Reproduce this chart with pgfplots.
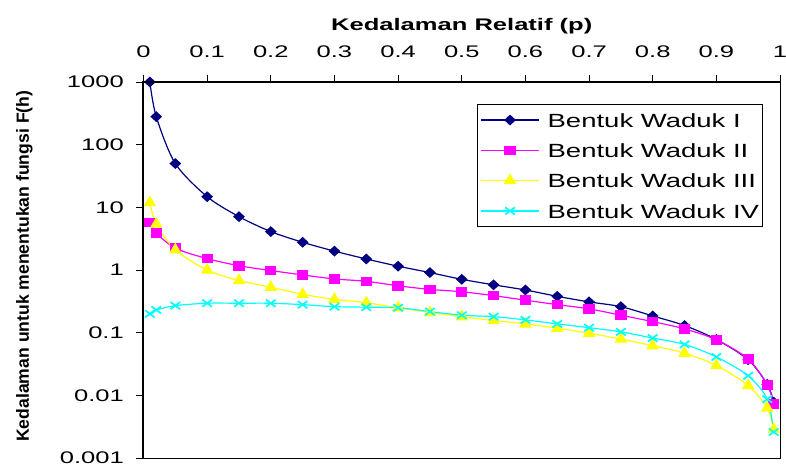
\documentclass[border=0pt]{standalone}
\usepackage{fontspec}
\setmainfont{Liberation Sans}
\usepackage{graphicx}
\usepackage{pgfplots}
\pgfplotsset{compat=1.18}
\newcommand{\sx}[1]{\scalebox{1.52}[1]{#1}}
\newcommand{\lx}[1]{\scalebox{1.44}[1]{#1}}
\definecolor{cI}{RGB}{0,0,128}
\definecolor{cII}{RGB}{255,0,255}
\definecolor{cIII}{RGB}{255,255,0}
\definecolor{cIV}{RGB}{0,255,255}
\begin{document}
\begin{tikzpicture}
\path[use as bounding box] (-143.5pt,-13pt) rectangle (642.5pt,458pt);
\begin{axis}[
  scale only axis,
  width=636.5pt, height=376pt,
  xmin=0, xmax=1,
  ymode=log, ymin=0.001, ymax=1000,
  clip=false,
  axis line style={black, line width=0.8pt},
  xtick={0,0.1,0.2,0.3,0.4,0.5,0.6,0.7,0.8,0.9,1},
  xticklabels={\sx{0},\sx{0.1},\sx{0.2},\sx{0.3},\sx{0.4},\sx{0.5},\sx{0.6},\sx{0.7},\sx{0.8},\sx{0.9},\sx{1}},
  ytick={0.001,0.01,0.1,1,10,100,1000},
  yticklabels={\sx{0.001},\sx{0.01},\sx{0.1},\sx{1},\sx{10},\sx{100},\sx{1000}},
  yminorticks=false, xminorticks=false,
  xtick pos=right, xticklabel pos=right,
  ytick pos=left,
  tick align=outside,
  major tick length=7.5pt,
  tick style={black, line width=0.8pt},
  tick label style={font=\fontsize{16.8}{18}\selectfont},
  xticklabel style={anchor=base, inner sep=0pt, yshift=17pt},
  yticklabel style={anchor=east, inner sep=0pt, xshift=-12pt},
  xlabel={\sx{\bfseries Kedalaman Relatif (p)}},
  xlabel style={at={(axis description cs:0.5,1.138)}, anchor=base, font=\fontsize{16.8}{18}\selectfont},
  ylabel={Kedalaman untuk menentukan fungsi F(h)},
  ylabel style={at={(axis description cs:-0.187,0.51)}, rotate=0, anchor=center, font=\fontsize{17.6}{19}\selectfont\bfseries},
  legend style={at={(axis description cs:0.524,0.9415)}, anchor=north west,
    draw=black, line width=0.8pt, inner xsep=3pt, inner ysep=0.5pt,
    font=\fontsize{19.1}{22}\selectfont,
    nodes={inner sep=0pt, text height=22.5pt, text depth=7.8pt},
    row sep=0pt,
    /tikz/every odd column/.append style={column sep=8pt}},
  legend cell align=left,
  legend image code/.code={\draw[mark repeat=2,mark phase=2,#1] plot coordinates {(0pt,0pt) (29pt,0pt) (58pt,0pt)};},
  after end axis/.code={\draw[black, line width=2pt] (rel axis cs:0,0) -- (rel axis cs:0,1) -- (rel axis cs:1,1);},
]
\addplot[cI, line width=1.2pt, smooth, tension=0.5, mark=diamond*, mark size=4.6pt, mark options={xscale=1.45, solid, fill=cI}] coordinates {
(0.01,1000) (0.02,280) (0.05,50) (0.1,14.8) (0.15,7.1) (0.2,4.1) (0.25,2.77) (0.3,2.0) (0.35,1.5) (0.4,1.15) (0.45,0.91) (0.5,0.71) (0.55,0.58) (0.6,0.48) (0.65,0.38) (0.7,0.31) (0.75,0.26) (0.8,0.185) (0.85,0.13) (0.9,0.078) (0.95,0.037) (0.98,0.015) (0.99,0.0078)};
\addlegendentry{\lx{Bentuk Waduk I}}
\addplot[cII, line width=1.2pt, smooth, tension=0.5, mark=square*, mark size=4.2pt, mark options={xscale=1.2, solid, fill=cII}] coordinates {
(0.01,5.7) (0.02,3.9) (0.05,2.23) (0.1,1.52) (0.15,1.17) (0.2,0.98) (0.25,0.835) (0.3,0.72) (0.35,0.66) (0.4,0.56) (0.45,0.49) (0.5,0.45) (0.55,0.39) (0.6,0.33) (0.65,0.28) (0.7,0.24) (0.75,0.19) (0.8,0.15) (0.85,0.115) (0.9,0.077) (0.95,0.038) (0.98,0.0147) (0.99,0.0073)};
\addlegendentry{\lx{Bentuk Waduk II}}
\addplot[cIII, line width=1.2pt, smooth, tension=0.5, mark=triangle*, mark size=6pt, mark options={solid, fill=cIII}] coordinates {
(0.01,11.9) (0.02,5.4) (0.05,2.1) (0.1,1.0) (0.15,0.68) (0.2,0.53) (0.25,0.41) (0.3,0.34) (0.35,0.30) (0.4,0.25) (0.45,0.21) (0.5,0.18) (0.55,0.156) (0.6,0.138) (0.65,0.118) (0.7,0.098) (0.75,0.079) (0.8,0.062) (0.85,0.047) (0.9,0.030) (0.95,0.0143) (0.98,0.0063) (0.99,0.0029)};
\addlegendentry{\lx{Bentuk Waduk III}}
\addplot[cIV, line width=1.2pt, smooth, tension=0.5, mark=x, mark size=5pt, mark options={xscale=1.35, solid, line width=1.7pt}] coordinates {
(0.01,0.2) (0.02,0.23) (0.05,0.27) (0.1,0.295) (0.15,0.295) (0.2,0.295) (0.25,0.28) (0.3,0.26) (0.35,0.255) (0.4,0.25) (0.45,0.217) (0.5,0.19) (0.55,0.18) (0.6,0.16) (0.65,0.138) (0.7,0.12) (0.75,0.103) (0.8,0.082) (0.85,0.065) (0.9,0.041) (0.95,0.0205) (0.98,0.0087) (0.99,0.0026)};
\addlegendentry{\lx{Bentuk Waduk IV}}
\end{axis}
\end{tikzpicture}
\end{document}
